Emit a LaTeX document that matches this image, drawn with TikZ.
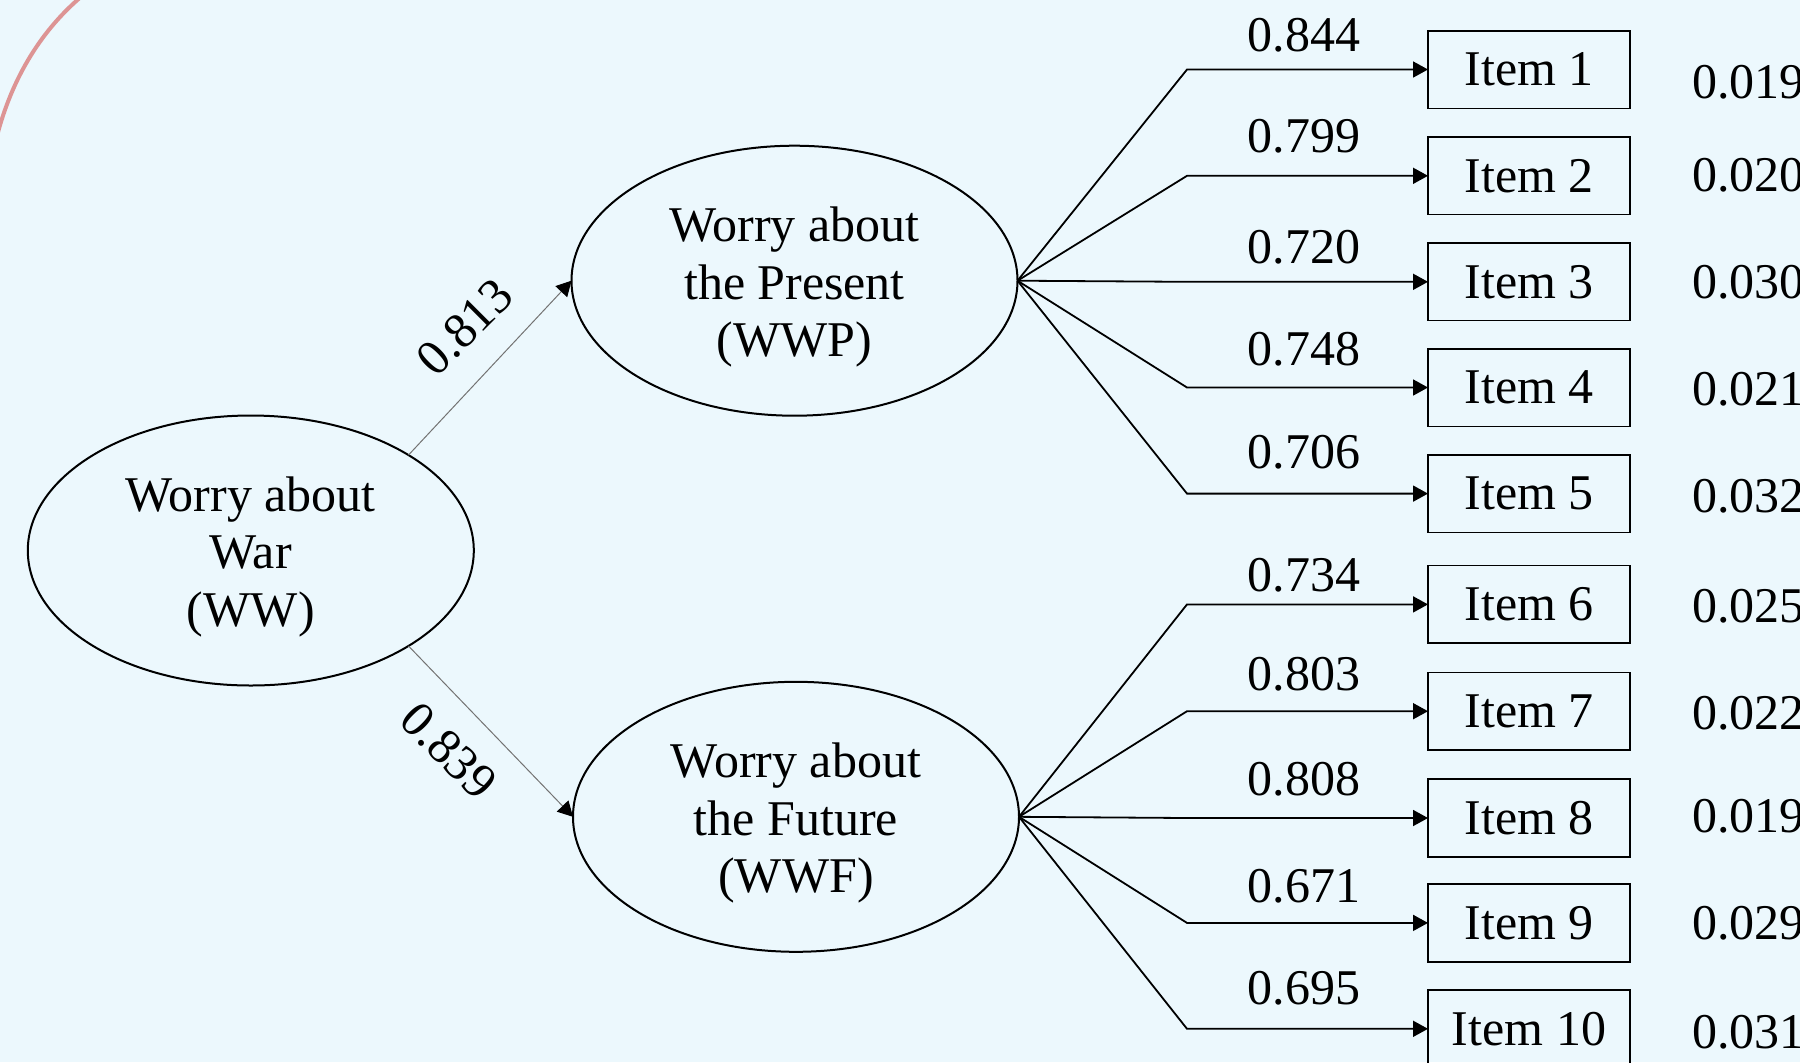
\documentclass[tikz,border=0pt]{standalone}
\usepackage{fontspec}
\setmainfont{Liberation Serif}
\usetikzlibrary{shapes.geometric,arrows.meta}
\definecolor{bgc}{RGB}{236,248,253}
\definecolor{arcc}{RGB}{221,148,148}
\begin{document}
\begin{tikzpicture}[x=0.5pt,y=-0.5pt,
  txt/.style={font=\fontsize{25}{28.7}\selectfont},
  lat/.style={ellipse,draw,line width=1pt,minimum width=223pt,minimum height=135pt,inner sep=0pt,outer sep=0pt},
  lattext/.style={inner sep=0pt,align=center,txt,yshift=-3.2pt},
  itembox/.style={rectangle,draw,line width=0.8pt,minimum width=101pt,minimum height=38.8pt,inner sep=0pt,outer sep=0pt,txt},
  load/.style={-{Triangle[length=7.5pt,width=8pt]},line width=0.9pt},
  gpath/.style={-{Triangle[length=7.5pt,width=8pt,color=black]},line width=0.5pt,draw=black!55},
  lbl/.style={inner sep=0pt,txt},
]
\fill[bgc] (0,0) rectangle (1800,1062);
\useasboundingbox (0,0) rectangle (1800,1062);
\draw[arcc,line width=2pt] (-4,140) .. controls (12,75) and (44,28) .. (82,-4);

\node[lat,label={[lattext]center:Worry about\\War\\(WW)}] (ww) at (250.8,550.5) {};
\node[lat,label={[lattext]center:Worry about\\the Present\\(WWP)}] (wwp) at (794.5,280.7) {};
\node[lat,label={[lattext]center:Worry about\\the Future\\(WWF)}] (wwf) at (796,816.8) {};

\draw[gpath] (ww.north east) -- (wwp.west);
\draw[gpath] (ww.south east) -- (wwf.west);
\node[lbl,rotate=45] (g1) at (465,327) {0.813};
\node[lbl,rotate=-45] (g2) at (449,751) {0.839};

\foreach \i/\y/\l/\ly/\e/\ey in {
  1/69.5/0.844/35.6/0.019/82.7,
  2/175.8/0.799/136.6/0.020/175.6,
  3/281.8/0.720/246.8/0.030/282.4,
  4/387.5/0.748/349/0.021/389.2,
  5/493.6/0.706/452.3/0.032/495.9}{
  \node[itembox] (it\i) at (1529,\y) {Item \i};
  \coordinate (b\i) at (1187,\y);
  \draw[load] (wwp.east) -- (b\i) -- (it\i.west);
  \node[lbl] (l\i) at (1304,\ly) {\l};
  \node[lbl,anchor=west] (e\i) at (1692,\ey) {\e};
}
\foreach \i/\y/\l/\ly/\e/\ey in {
  6/604.4/0.734/575/0.025/606.1,
  7/711.2/0.803/674/0.022/712.9,
  8/818/0.808/779.5/0.019/816.2,
  9/922.9/0.671/886/0.029/923,
  10/1028.8/0.695/988/0.031/1032}{
  \node[itembox] (it\i) at (1529,\y) {Item \i};
  \coordinate (b\i) at (1187,\y);
  \draw[load] (wwf.east) -- (b\i) -- (it\i.west);
  \node[lbl] (l\i) at (1304,\ly) {\l};
  \node[lbl,anchor=west] (e\i) at (1692,\ey) {\e};
}
\end{tikzpicture}
\end{document}
